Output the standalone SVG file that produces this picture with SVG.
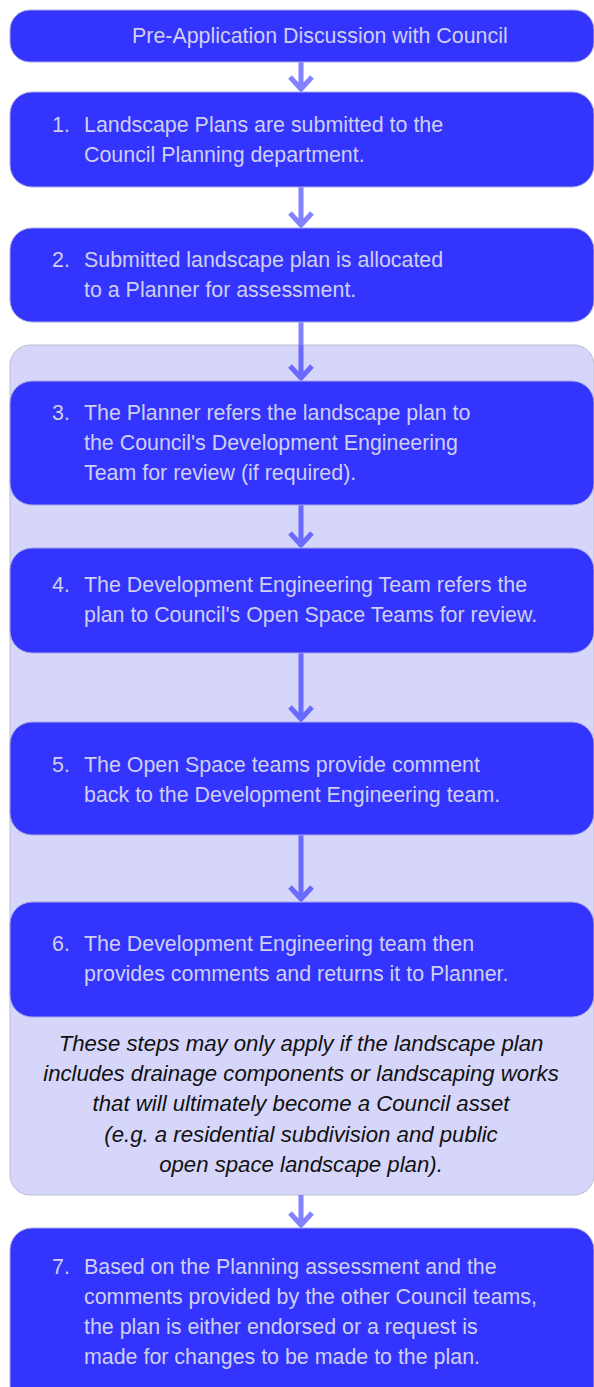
<svg xmlns="http://www.w3.org/2000/svg" width="594" height="1387" viewBox="0 0 594 1387">
<style>
.box{fill:#3434FF;stroke:#A8A8E0;stroke-width:1}
.grp{fill:#D6D6FA;stroke:#BDBDD0;stroke-width:1}
.t{font-family:"Liberation Sans",Arial,sans-serif;font-size:21.4px;fill:#CFCFF0}
.n{font-family:"Liberation Sans",Arial,sans-serif;font-size:21.4px;fill:#CFCFF0}
.it{font-family:"Liberation Sans",Arial,sans-serif;font-size:22.2px;font-style:italic;fill:#111111;text-anchor:middle}
.ao{stroke:#8282FF;stroke-width:5;fill:none}
.ai{stroke:#6A6AFF;stroke-width:5;fill:none}
</style>
<rect width="594" height="1387" fill="#FFFFFF"/>
<g id="group">
<rect class="grp" x="10" y="345" width="584" height="850" rx="20"/>
<text class="it" x="301" y="1051">These steps may only apply if the landscape plan</text>
<text class="it" x="301" y="1081">includes drainage components or landscaping works</text>
<text class="it" x="301" y="1111">that will ultimately become a Council asset</text>
<text class="it" x="301" y="1142">(e.g. a residential subdivision and public</text>
<text class="it" x="301" y="1172">open space landscape plan).</text>
</g>
<g id="connectors">
<path class="ao" d="M301 62V90M290 77L301 89L312 77"/>
<path class="ao" d="M301 187V226M290 213L301 225L312 213"/>
<path class="ao" d="M301 322V345"/>
<path class="ai" d="M301 345V379M290 366L301 378L312 366"/>
<path class="ai" d="M301 505V546M290 533L301 545L312 533"/>
<path class="ai" d="M301 653V720M290 707L301 719L312 707"/>
<path class="ai" d="M301 835V900M290 887L301 899L312 887"/>
<path class="ao" d="M301 1195V1226M290 1213L301 1225L312 1213"/>
</g>
<g id="node0">
<rect class="box" x="10" y="10" width="584" height="52" rx="20"/>
<text class="t" x="132" y="43">Pre-Application Discussion with Council</text>
</g>
<g id="node1">
<rect class="box" x="10" y="92" width="584" height="95" rx="22"/>
<text class="n" x="52" y="132">1.</text>
<text class="t" x="84" y="132">Landscape Plans are submitted to the</text>
<text class="t" x="84" y="162">Council Planning department.</text>
</g>
<g id="node2">
<rect class="box" x="10" y="228" width="584" height="94" rx="22"/>
<text class="n" x="52" y="267">2.</text>
<text class="t" x="84" y="267">Submitted landscape plan is allocated</text>
<text class="t" x="84" y="297">to a Planner for assessment.</text>
</g>
<g id="node3">
<rect class="box" x="10" y="381" width="584" height="124" rx="22"/>
<text class="n" x="52" y="420">3.</text>
<text class="t" x="84" y="420">The Planner refers the landscape plan to</text>
<text class="t" x="84" y="450">the Council's Development Engineering</text>
<text class="t" x="84" y="480">Team for review (if required).</text>
</g>
<g id="node4">
<rect class="box" x="10" y="548" width="584" height="105" rx="22"/>
<text class="n" x="52" y="592">4.</text>
<text class="t" x="84" y="592">The Development Engineering Team refers the</text>
<text class="t" x="84" y="622">plan to Council's Open Space Teams for review.</text>
</g>
<g id="node5">
<rect class="box" x="10" y="722" width="584" height="113" rx="22"/>
<text class="n" x="52" y="772">5.</text>
<text class="t" x="84" y="772">The Open Space teams provide comment</text>
<text class="t" x="84" y="802">back to the Development Engineering team.</text>
</g>
<g id="node6">
<rect class="box" x="10" y="902" width="584" height="115" rx="22"/>
<text class="n" x="52" y="951">6.</text>
<text class="t" x="84" y="951">The Development Engineering team then</text>
<text class="t" x="84" y="981">provides comments and returns it to Planner.</text>
</g>
<g id="node7">
<rect class="box" x="10" y="1228" width="584" height="180" rx="22"/>
<text class="n" x="52" y="1274">7.</text>
<text class="t" x="84" y="1274">Based on the Planning assessment and the</text>
<text class="t" x="84" y="1304">comments provided by the other Council teams,</text>
<text class="t" x="84" y="1334">the plan is either endorsed or a request is</text>
<text class="t" x="84" y="1364">made for changes to be made to the plan.</text>
</g>
</svg>
